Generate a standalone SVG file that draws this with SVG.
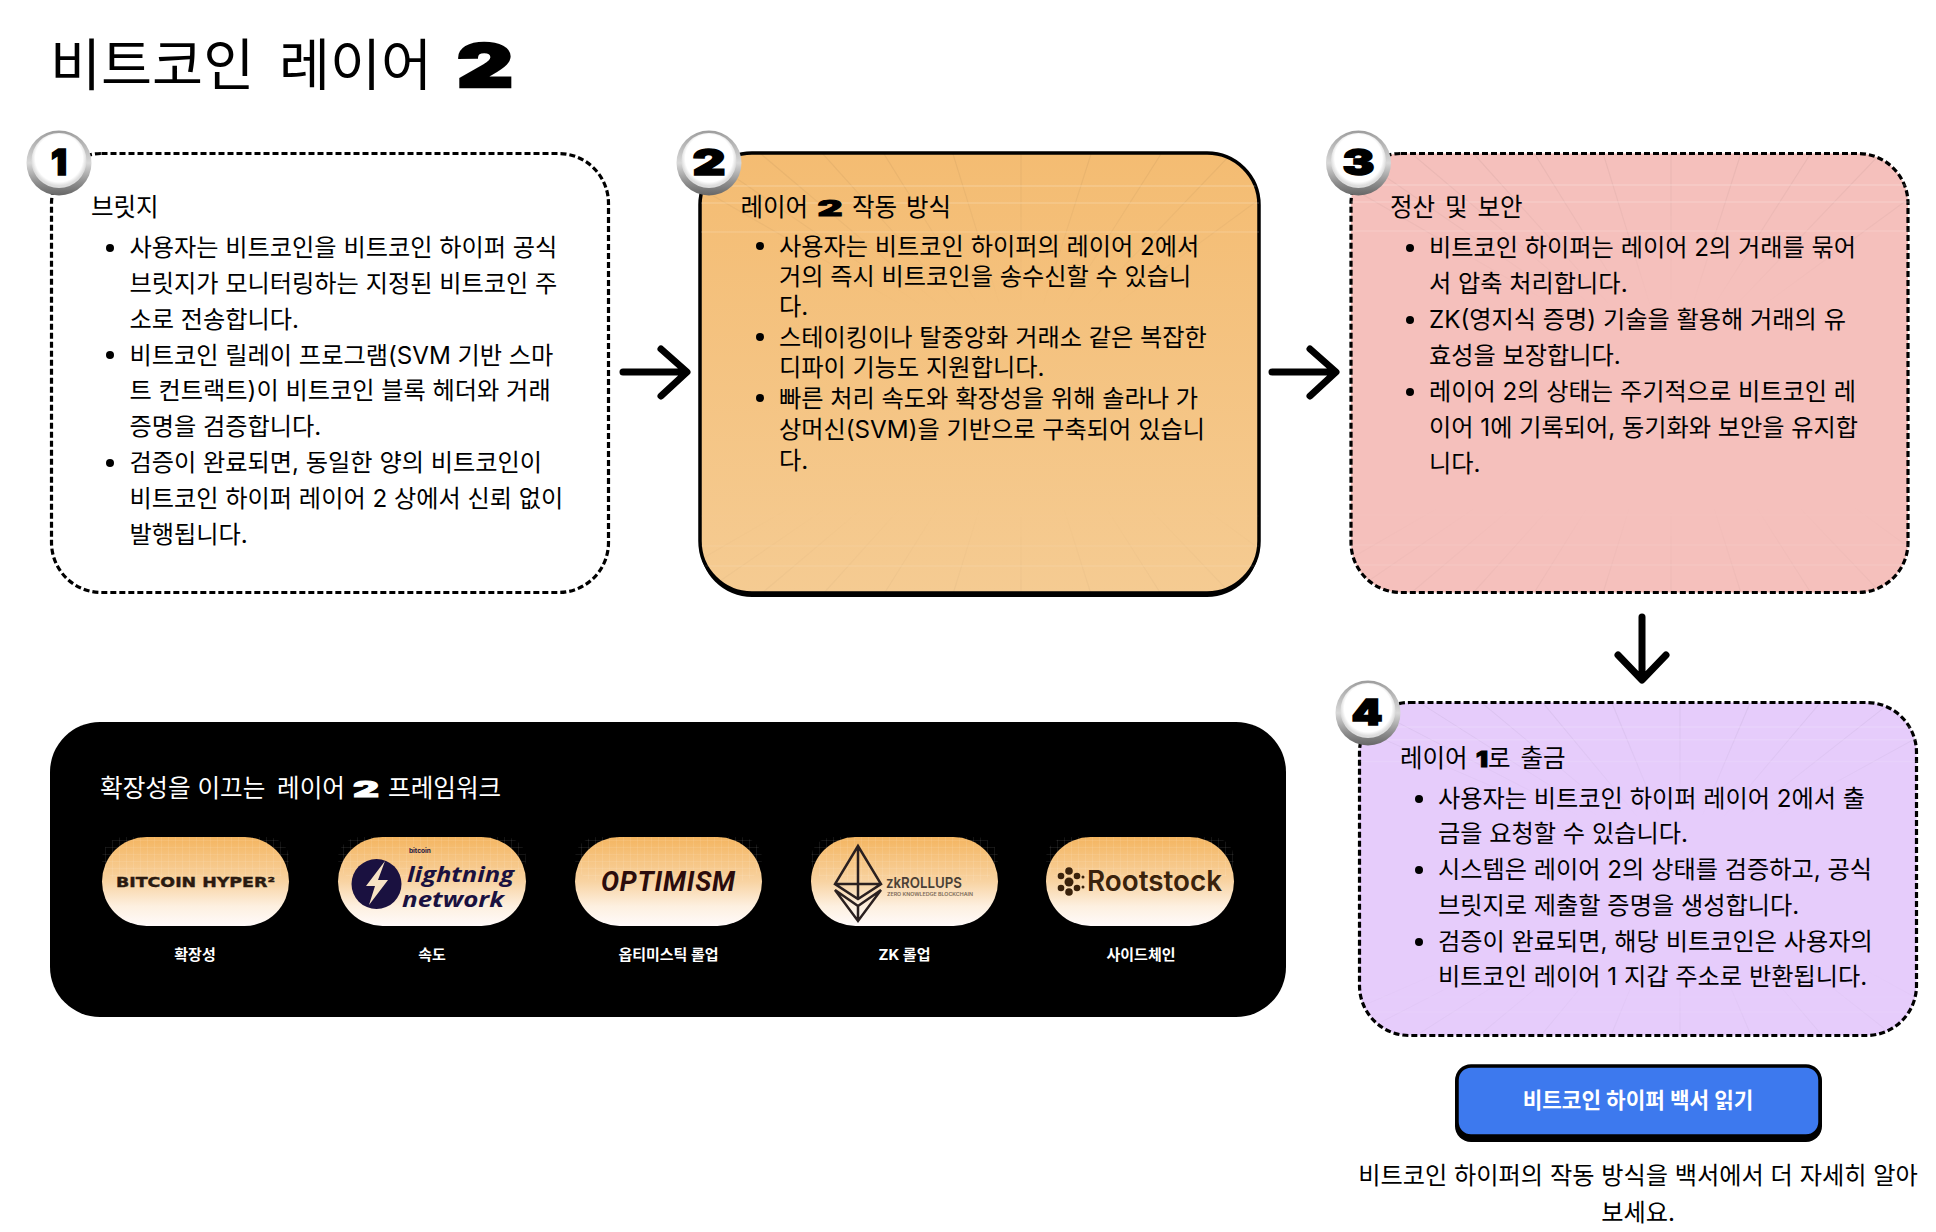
<svg xmlns="http://www.w3.org/2000/svg" xmlns:xlink="http://www.w3.org/1999/xlink" width="1936" height="1232" viewBox="0 0 1936 1232">
<style>
text{font-family:Inter,"Noto Sans CJK KR",sans-serif;fill:#000}
.b{font-size:24.2px}
.h{font-size:24.5px}
.w{font-family:Inter,sans-serif;font-weight:900;stroke:currentColor}
.dash{stroke:#000;stroke-width:3.2;stroke-dasharray:6 3}
.cap{font-size:15px;font-weight:700;fill:#fff;text-anchor:middle}
.arrow{fill:none;stroke:#000;stroke-width:7;stroke-linecap:round;stroke-linejoin:round}
.grid line{stroke:#000;stroke-opacity:.05;stroke-width:1.2}
.grid line.hz{stroke:#fff;stroke-opacity:.18;stroke-width:2}
.ring{fill:url(#ringG)}
.face{fill:url(#faceG)}
.pill{fill:url(#pillG)}
.pg{fill:url(#pillGrid)}
.dot{fill:#000}
.badge{font-size:36px;text-anchor:middle;font-family:Inter,sans-serif;font-weight:900;stroke:#000;stroke-width:1.500}
</style>
<defs>
<linearGradient id="ringG" x1="0" y1="0" x2="0" y2="1"><stop offset="0" stop-color="#9d9d9d"/><stop offset=".5" stop-color="#d8d8d8"/><stop offset=".8" stop-color="#8f8f8f"/><stop offset="1" stop-color="#666"/></linearGradient>
<radialGradient id="faceG" cx=".5" cy=".46" r=".5"><stop offset="0" stop-color="#fff"/><stop offset=".86" stop-color="#fff"/><stop offset="1" stop-color="#ddd"/></radialGradient>
<linearGradient id="pillG" x1="0" y1="0" x2="0" y2="1"><stop offset="0" stop-color="#f4b560"/><stop offset=".5" stop-color="#f8d3a2"/><stop offset=".78" stop-color="#fdf0e0"/><stop offset="1" stop-color="#fffafa"/></linearGradient>
<pattern id="pillGrid" width="7" height="7" patternUnits="userSpaceOnUse"><path d="M0 0H7M0 0V7" stroke="#fff" stroke-opacity=".16" fill="none"/></pattern>
<linearGradient id="o2" x1="0" y1="0" x2="0" y2="1"><stop offset="0" stop-color="#f4bc72"/><stop offset="1" stop-color="#f5cb92"/></linearGradient>
<linearGradient id="fade" x1="0" y1="0" x2="0" y2="1"><stop offset="0" stop-color="#fff"/><stop offset=".2" stop-color="#fff" stop-opacity=".55"/><stop offset=".36" stop-color="#fff" stop-opacity="0"/><stop offset=".78" stop-color="#fff" stop-opacity="0"/><stop offset=".92" stop-color="#fff" stop-opacity=".4"/><stop offset="1" stop-color="#fff" stop-opacity=".7"/></linearGradient>
<mask id="fm" maskContentUnits="userSpaceOnUse" x="-10" y="-10" width="580" height="460" maskUnits="userSpaceOnUse"><rect x="-10" y="-10" width="580" height="460" fill="url(#fade)"/></mask>
<g id="gridG" class="grid" mask="url(#fm)">
<line x1="320" y1="220" x2="-60" y2="0"/><line x1="320" y1="220" x2="0" y2="0"/><line x1="320" y1="220" x2="60" y2="0"/><line x1="320" y1="220" x2="122" y2="0"/><line x1="320" y1="220" x2="183" y2="0"/><line x1="320" y1="220" x2="252" y2="0"/><line x1="320" y1="220" x2="320" y2="0"/><line x1="320" y1="220" x2="390" y2="0"/><line x1="320" y1="220" x2="460" y2="0"/><line x1="320" y1="220" x2="530" y2="0"/><line x1="320" y1="220" x2="620" y2="0"/>
<line x1="320" y1="220" x2="-60" y2="440"/><line x1="320" y1="220" x2="0" y2="440"/><line x1="320" y1="220" x2="60" y2="440"/><line x1="320" y1="220" x2="122" y2="440"/><line x1="320" y1="220" x2="183" y2="440"/><line x1="320" y1="220" x2="252" y2="440"/><line x1="320" y1="220" x2="320" y2="440"/><line x1="320" y1="220" x2="390" y2="440"/><line x1="320" y1="220" x2="460" y2="440"/><line x1="320" y1="220" x2="530" y2="440"/><line x1="320" y1="220" x2="620" y2="440"/>
<line class="hz" x1="0" y1="32" x2="558" y2="32"/><line class="hz" x1="0" y1="49" x2="558" y2="49"/><line class="hz" x1="0" y1="78" x2="558" y2="78"/><line class="hz" x1="0" y1="362" x2="558" y2="362"/><line class="hz" x1="0" y1="392" x2="558" y2="392"/><line class="hz" x1="0" y1="412" x2="558" y2="412"/>
</g>
<clipPath id="c2"><rect x="0" y="0" width="558" height="442" rx="50"/></clipPath>
<clipPath id="c4"><rect x="0" y="0" width="558" height="440" rx="60"/></clipPath>
</defs>
<rect width="1936" height="1232" fill="#fff"/>

<g id="title"><text x="50" y="85" font-size="55.500px">비트코인 <tspan x="279">레이어</tspan> <tspan class="w" x="457" y="87" font-size="59px" stroke-width="2.500" textLength="56" lengthAdjust="spacingAndGlyphs">2</tspan></text></g>

<g id="connectors">
<path class="arrow" d="M623 372H685M661 349L687 372L661 396"/>
<path class="arrow" d="M1272 372H1334M1310 349L1336 372L1310 396"/>
<path class="arrow" d="M1642 617V678M1618 655L1642 680L1666 655"/>
</g>

<g id="node1">
<rect x="51.500" y="153.500" width="557" height="439" rx="50" fill="#fff" class="dash"/>
<circle class="ring" cx="59" cy="163" r="32.500"/><circle class="face" cx="59" cy="160.500" r="27.500"/>
<text class="badge" x="59" y="175" textLength="16" lengthAdjust="spacingAndGlyphs">1</text>
<text class="h" x="91" y="216">브릿지</text>
<circle class="dot" cx="110" cy="248" r="4"/><circle class="dot" cx="110" cy="355" r="4"/><circle class="dot" cx="110" cy="463" r="4"/>
<text class="b"><tspan x="129.500" y="256">사용자는 비트코인을 비트코인 하이퍼 공식</tspan><tspan x="129.500" y="292">브릿지가 모니터링하는 지정된 비트코인 주</tspan><tspan x="129.500" y="327.500">소로 전송합니다.</tspan><tspan x="129.500" y="363.500">비트코인 릴레이 프로그램(SVM 기반 스마</tspan><tspan x="129.500" y="399">트 컨트랙트)이 비트코인 블록 헤더와 거래</tspan><tspan x="129.500" y="435">증명을 검증합니다.</tspan><tspan x="129.500" y="471">검증이 완료되면, 동일한 양의 비트코인이</tspan><tspan x="129.500" y="506.500">비트코인 하이퍼 레이어 2 상에서 신뢰 없이</tspan><tspan x="129.500" y="543">발행됩니다.</tspan></text>
</g>

<g id="node2">
<rect x="700" y="156" width="559" height="441" rx="52" fill="#000"/>
<rect x="700" y="153" width="559" height="440" rx="52" fill="url(#o2)" stroke="#000" stroke-width="3.500"/>
<g transform="translate(701 154)" clip-path="url(#c2)"><use xlink:href="#gridG" href="#gridG"/></g>
<circle class="ring" cx="709" cy="163" r="32.500"/><circle class="face" cx="709" cy="160.500" r="27.500"/>
<text class="badge" x="709" y="175" textLength="33" lengthAdjust="spacingAndGlyphs">2</text>
<text class="h" x="740.500" y="216">레이어 <tspan class="w" x="817.500" y="216" font-size="21.500px" textLength="25" lengthAdjust="spacingAndGlyphs" stroke-width="1">2</tspan> <tspan x="852" y="216" word-spacing="2">작동 방식</tspan></text>
<circle class="dot" cx="760" cy="246" r="4"/><circle class="dot" cx="760" cy="337" r="4"/><circle class="dot" cx="760" cy="398" r="4"/>
<text class="b"><tspan x="779" y="254.500">사용자는 비트코인 하이퍼의 레이어 2에서</tspan><tspan x="779" y="284.500">거의 즉시 비트코인을 송수신할 수 있습니</tspan><tspan x="779" y="315">다.</tspan><tspan x="779" y="345.500">스테이킹이나 탈중앙화 거래소 같은 복잡한</tspan><tspan x="779" y="376">디파이 기능도 지원합니다.</tspan><tspan x="779" y="407">빠른 처리 속도와 확장성을 위해 솔라나 가</tspan><tspan x="779" y="437.500">상머신(SVM)을 기반으로 구축되어 있습니</tspan><tspan x="779" y="468.500">다.</tspan></text>
</g>

<g id="node3">
<rect x="1351" y="153.500" width="557" height="439" rx="50" fill="#f5c0bc" class="dash"/>
<g transform="translate(1351 153)" clip-path="url(#c2)"><use xlink:href="#gridG" href="#gridG"/></g>
<circle class="ring" cx="1358.500" cy="163" r="32.500"/><circle class="face" cx="1358.500" cy="160.500" r="27.500"/>
<text class="badge" x="1358.500" y="175" textLength="32" lengthAdjust="spacingAndGlyphs">3</text>
<text class="h" x="1390" y="216" word-spacing="3">정산 및 보안</text>
<circle class="dot" cx="1410" cy="248" r="4"/><circle class="dot" cx="1410" cy="320" r="4"/><circle class="dot" cx="1410" cy="392" r="4"/>
<text class="b"><tspan x="1429" y="256">비트코인 하이퍼는 레이어 2의 거래를 묶어</tspan><tspan x="1429" y="292">서 압축 처리합니다.</tspan><tspan x="1429" y="328">ZK(영지식 증명) 기술을 활용해 거래의 유</tspan><tspan x="1429" y="364">효성을 보장합니다.</tspan><tspan x="1429" y="400">레이어 2의 상태는 주기적으로 비트코인 레</tspan><tspan x="1429" y="436">이어 1에 기록되어, 동기화와 보안을 유지합</tspan><tspan x="1429" y="471.500">니다.</tspan></text>
</g>

<g id="node4">
<rect x="1359.500" y="702.500" width="557" height="333" rx="50" fill="#e6ccfb" class="dash"/>
<g transform="translate(1360 703) scale(1 .75)" clip-path="url(#c4)"><use xlink:href="#gridG" href="#gridG"/></g>
<circle class="ring" cx="1368" cy="713" r="32.500"/><circle class="face" cx="1368" cy="710.500" r="27.500"/>
<text class="badge" x="1367" y="725" textLength="31" lengthAdjust="spacingAndGlyphs">4</text>
<text class="h" x="1400" y="767">레이어 <tspan class="w" x="1476" y="767" font-size="21.500px" textLength="12" lengthAdjust="spacingAndGlyphs" stroke-width="1">1</tspan><tspan x="1488" y="767" word-spacing="3">로 출금</tspan></text>
<circle class="dot" cx="1419" cy="799" r="4"/><circle class="dot" cx="1419" cy="870" r="4"/><circle class="dot" cx="1419" cy="942" r="4"/>
<text class="b"><tspan x="1438" y="807">사용자는 비트코인 하이퍼 레이어 2에서 출</tspan><tspan x="1438" y="842">금을 요청할 수 있습니다.</tspan><tspan x="1438" y="878">시스템은 레이어 2의 상태를 검증하고, 공식</tspan><tspan x="1438" y="913.500">브릿지로 제출할 증명을 생성합니다.</tspan><tspan x="1438" y="950">검증이 완료되면, 해당 비트코인은 사용자의</tspan><tspan x="1438" y="985">비트코인 레이어 1 지갑 주소로 반환됩니다.</tspan></text>
</g>

<g id="node5">
<rect x="50" y="722" width="1236" height="295" rx="50" fill="#000"/>
<text style="fill:#fff" x="100" y="796.500" font-size="24.600px">확장성을 이끄는 <tspan x="277">레이어</tspan> <tspan class="w" x="353" y="797" font-size="21.500px" textLength="26" lengthAdjust="spacingAndGlyphs" stroke-width="1" style="fill:#fff;color:#fff">2</tspan> <tspan x="388" y="796.500">프레임워크</tspan></text>
</g>

<g id="p1">
<rect class="pill" x="102" y="837" width="187" height="89" rx="44.500"/><rect class="pg" x="102" y="837" width="187" height="44" rx="22"/>
<text x="116" y="887" style="font-family:'DejaVu Sans',sans-serif;font-size:14px;font-weight:700;fill:#2a1a10;stroke:#2a1a10;stroke-width:.4" textLength="159" lengthAdjust="spacingAndGlyphs">BITCOIN HYPER²</text>
<text class="cap" x="195" y="959.500">확장성</text>
</g>
<g id="p2">
<rect class="pill" x="338" y="837" width="188" height="89" rx="44.500"/><rect class="pg" x="338" y="837" width="188" height="44" rx="22"/>
<circle cx="376.500" cy="884" r="25" fill="#1a1140"/>
<path d="M385 861L366 886H375L369 905L388 880H378Z" fill="#f7e3c4"/>
<text x="409" y="852.500" style="font-size:6.500px;font-weight:700;fill:#1a1140">bitcoin</text>
<text x="407" y="882" style="font-family:'Open Sans',sans-serif;font-size:21px;font-weight:700;font-style:italic;fill:#1a1140" textLength="107" lengthAdjust="spacingAndGlyphs">lightning</text>
<text x="402" y="907" style="font-family:'Open Sans',sans-serif;font-size:21px;font-weight:700;font-style:italic;fill:#1a1140" textLength="102" lengthAdjust="spacingAndGlyphs">network</text>
<text class="cap" x="432" y="959.500">속도</text>
</g>
<g id="p3">
<rect class="pill" x="575" y="837" width="187" height="89" rx="44.500"/><rect class="pg" x="575" y="837" width="187" height="44" rx="22"/>
<text x="601" y="891" style="font-family:'Roboto',sans-serif;font-size:27px;font-weight:700;font-style:italic;fill:#2b0c0c" textLength="134" lengthAdjust="spacing">OPTIMISM</text>
<text class="cap" x="668.500" y="959.500">옵티미스틱 롤업</text>
</g>
<g id="p4">
<rect class="pill" x="811" y="837" width="187" height="89" rx="44.500"/><rect class="pg" x="811" y="837" width="187" height="44" rx="22"/>
<g fill="none" stroke="#2a2020" stroke-width="2.500" stroke-linejoin="miter">
<path d="M858 846L835 884L858 899L881 884ZM858 846V899M835 884H881"/>
<path d="M835 890L858 921L881 890L858 906ZM858 906V921"/>
</g>
<text x="886" y="888" style="font-size:15px;font-weight:600;fill:#4a4036" textLength="76" lengthAdjust="spacingAndGlyphs">zkROLLUPS</text>
<text x="887" y="896" style="font-size:4.500px;font-weight:600;fill:#7a6a58" textLength="86" lengthAdjust="spacingAndGlyphs">ZERO KNOWLEDGE BLOCKCHAIN</text>
<text class="cap" x="904.500" y="959.500">ZK 롤업</text>
</g>
<g id="p5">
<rect class="pill" x="1046" y="837" width="188" height="89" rx="44.500"/><rect class="pg" x="1046" y="837" width="188" height="44" rx="22"/>
<g fill="#3a220c"><circle cx="1069" cy="871" r="3.800"/><circle cx="1069" cy="882" r="4.500"/><circle cx="1069" cy="892" r="3.800"/><circle cx="1061" cy="876" r="3.300"/><circle cx="1077" cy="876" r="3.300"/><circle cx="1061" cy="888" r="3.300"/><circle cx="1077" cy="888" r="3.300"/><circle cx="1083" cy="877" r="1.500"/><circle cx="1083" cy="887" r="1.500"/></g>
<text x="1087" y="891" style="font-family:'Inter',sans-serif;font-size:28px;font-weight:600;fill:#3a220c" textLength="135" lengthAdjust="spacingAndGlyphs">Rootstock</text>
<text class="cap" x="1141" y="959.500">사이드체인</text>
</g>

<g id="node6">
<rect x="1455" y="1066" width="367" height="76" rx="16" fill="#000"/>
<rect x="1457" y="1066" width="363" height="70" rx="14" fill="#3d79ee" stroke="#000" stroke-width="3.500"/>
<text x="1638" y="1108" text-anchor="middle" style="font-size:21.300px;font-weight:700;fill:#fff">비트코인 하이퍼 백서 읽기</text>
</g>
<g id="note">
<text class="b" text-anchor="middle"><tspan x="1638" y="1184">비트코인 하이퍼의 작동 방식을 백서에서 더 자세히 알아</tspan><tspan x="1638" y="1221">보세요.</tspan></text>
</g>
</svg>
